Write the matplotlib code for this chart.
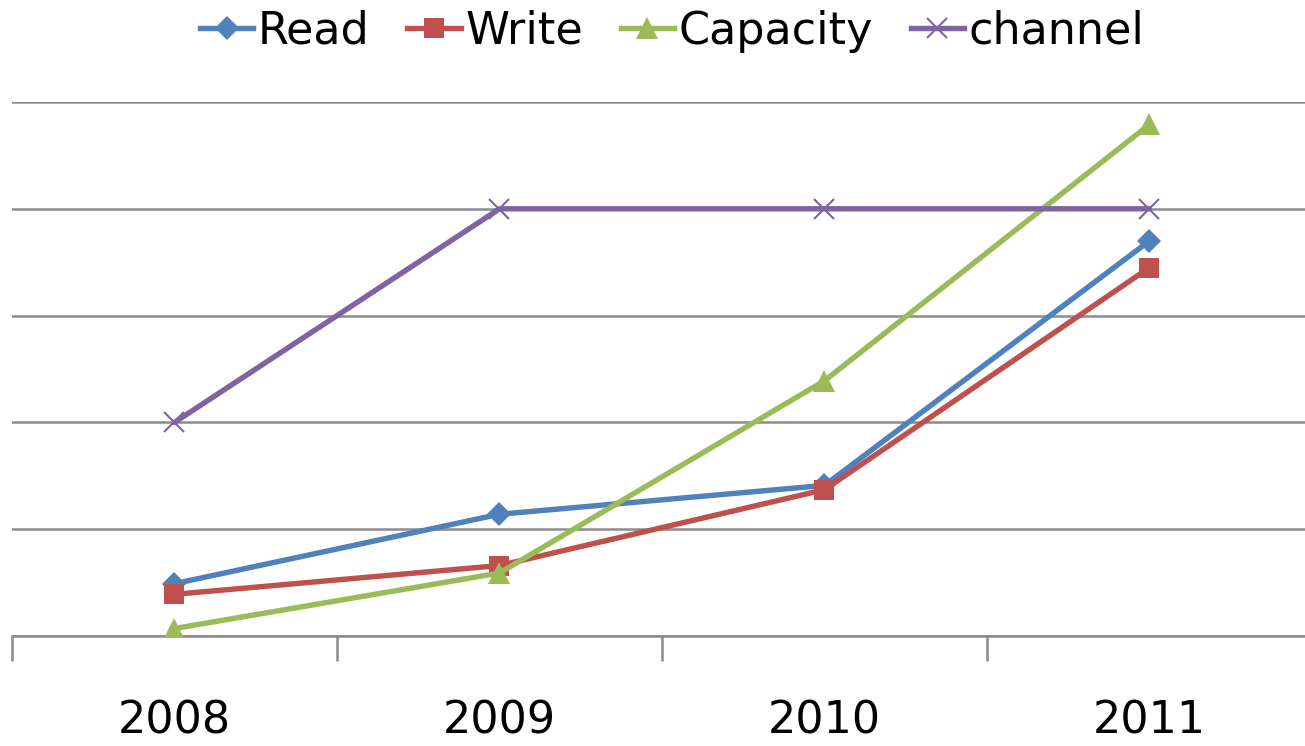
import matplotlib
matplotlib.use("Agg")
import matplotlib.pyplot as plt
from matplotlib.lines import Line2D

years = ["2008", "2009", "2010", "2011"]
read = [0.49, 1.14, 1.41, 3.70]
write = [0.39, 0.66, 1.37, 3.45]
capacity = [0.07, 0.59, 2.39, 4.79]
channel = [2.0, 4.0, 4.0, 4.0]

W, H = 1305, 746
fig = plt.figure(figsize=(W / 100, H / 100), dpi=100)
# plot area: left at x=12, right past the figure edge, top at y=102, bottom at y=636
ax = fig.add_axes([12 / W, (H - 636) / H, 1300 / W, 534 / H])

x = list(range(len(years)))
series = [
    ("Read", read, "#4F81BD", "D", 12),
    ("Write", write, "#C0504D", "s", 14),
    ("Capacity", capacity, "#9BBB59", "^", 16),
    ("channel", channel, "#8064A2", "x", 15),
]
for name, vals, color, mk, ms in series:
    ax.plot(x, vals, color=color, lw=3.9, marker=mk, markersize=ms,
            markeredgewidth=1.5 if mk == "x" else 0, markeredgecolor=color,
            label=name, solid_capstyle="round", zorder=3)

ax.set_xlim(-0.5, len(years) - 0.5)
ax.set_ylim(0, 5)
ax.set_yticks([0, 1, 2, 3, 4, 5])
ax.yaxis.grid(True, color="#8c8c8c", lw=1.8)
ax.set_axisbelow(True)
ax.tick_params(axis="y", left=False, labelleft=False)
for s in ["top", "right", "left"]:
    ax.spines[s].set_visible(False)
ax.spines["bottom"].set_color("#8c8c8c")
ax.spines["bottom"].set_linewidth(1.8)

# category labels centered, tick marks on category boundaries
ax.set_xticks(x)
ax.set_xticklabels(years, fontsize=32)
ax.tick_params(axis="x", which="major", length=0, pad=46)
ax.set_xticks([i - 0.5 for i in range(len(years) + 1)], minor=True)
ax.tick_params(axis="x", which="minor", length=18, width=1.8,
               color="#8c8c8c", direction="out")

handles = [Line2D([0], [0], color=c, lw=3.9, marker=m, markersize=ms,
                  markeredgewidth=1.5 if m == "x" else 0, markeredgecolor=c)
           for _, _, c, m, ms in series]
fig.legend(handles, [s[0] for s in series], loc="upper center",
           bbox_to_anchor=(0.515, 0.993), ncol=4, frameon=False, fontsize=32,
           handlelength=1.2, handletextpad=0.1, columnspacing=0.85,
           borderaxespad=0.0, borderpad=0.1)

fig.savefig("out.png", dpi=100)
